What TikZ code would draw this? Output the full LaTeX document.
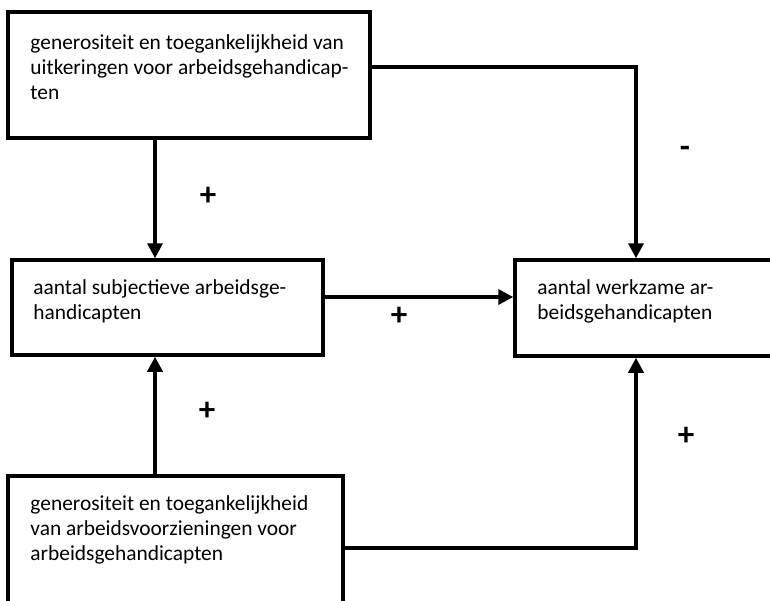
\documentclass[tikz,border=0pt]{standalone}
\usepackage{fontspec}
\setmainfont{Carlito}
\usetikzlibrary{arrows.meta,positioning}
\begin{document}
\begin{tikzpicture}[x=1pt, y=-1pt, font=\fontsize{21.4}{25}\selectfont]
\tikzset{box/.style={draw, rectangle, inner sep=0pt, line width=3.5pt},
  txt/.style={align=left, inner sep=0pt},
  teken/.style={font=\bfseries\fontsize{33}{36}\selectfont},
  pijl/.style={line width=3.5pt, -{Triangle[length=15pt,width=15pt]}}}
\useasboundingbox (0,0) rectangle (770,600);
% kolommen en rijen van de verbindingen
\coordinate (kol) at (155,0);
\coordinate (rkol) at (636,0);
\coordinate (rij) at (0,297);
\coordinate (orij) at (0,548);
\coordinate (brij) at (0,67);
% vakken
\node[box, minimum width=362pt, minimum height=126pt] (uitk) at (189,75) {};
\node[box, minimum width=311pt, minimum height=95pt] (subj) at (167.5,307.5) {};
\node[box, minimum width=265pt, minimum height=96pt] (werk) at (647.5,308) {};
\node[box, minimum width=335pt, minimum height=134pt] (voorz) at (175.5,543) {};
\node[txt, below right=24pt and 24pt of uitk.north west] (uitkt) {generositeit en toegankelijkheid van\\uitkeringen voor arbeidsgehandicap-\\ten};
\node[txt, below right=21pt and 23pt of subj.north west] (subjt) {aantal subjectieve arbeidsge-\\handicapten};
\node[txt, below right=21pt and 24pt of werk.north west] (werkt) {aantal werkzame ar-\\beidsgehandicapten};
\node[txt, below right=21pt and 24pt of voorz.north west] (voorzt) {generositeit en toegankelijkheid\\van arbeidsvoorzieningen voor\\arbeidsgehandicapten};
% verbindingen
\draw[pijl] (uitk.south -| kol) -- (subj.north -| kol);
\draw[pijl] (voorz.north -| kol) -- (subj.south -| kol);
\draw[pijl] (subj.east |- rij) -- (werk.west |- rij);
\draw[pijl] (uitk.east |- brij) -| (werk.north -| rkol);
\draw[pijl] (voorz.east |- orij) -| (werk.south -| rkol);
% tekens
\node[teken] (t1) at (208,196) {+};
\node[teken] (t2) at (685,152) {-};
\node[teken] (t3) at (399,316) {+};
\node[teken] (t4) at (207,411) {+};
\node[teken] (t5) at (686,436) {+};
\end{tikzpicture}
\end{document}
